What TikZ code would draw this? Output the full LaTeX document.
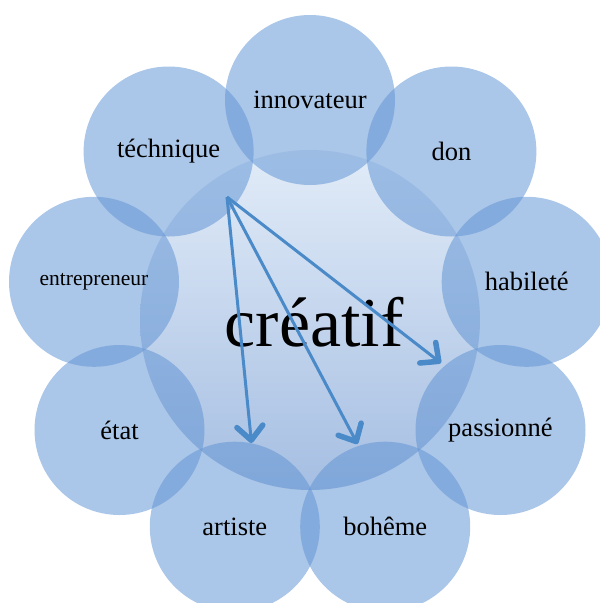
\documentclass[tikz,border=0pt]{standalone}
\usepackage{fontspec}
\setmainfont{Liberation Serif}
\usetikzlibrary{arrows.meta}
\definecolor{petalc}{RGB}{98,149,212}
\definecolor{ctop}{RGB}{226,236,248}
\definecolor{cbot}{RGB}{165,190,226}
\definecolor{arrowc}{RGB}{74,138,200}
\begin{document}
\begin{tikzpicture}[x=1pt,y=-1pt,
  petal/.style={circle, minimum size=170pt, inner sep=0pt, fill=petalc, fill opacity=0.54, text opacity=1, text=black, font=\fontsize{26.5}{30}\selectfont},
  core/.style={circle, minimum size=340pt, inner sep=0pt, top color=ctop, bottom color=cbot, draw=none},
  link/.style={draw=arrowc, line width=3pt, -{Straight Barb[length=14pt,width=26pt,line width=5.5pt 0,round]}}]
\useasboundingbox (0,0) rectangle (600,603);
\clip (0,0) rectangle (600,603);
\node[core] (c) at (310,320) {};
\node[font=\fontsize{70}{76}\selectfont] (ct) at (314,322) {créatif};
\node[petal] (p1) at (310,100) {innovateur};
\node[petal] (p2) at (451.4,151.5) {don};
\node[petal] (p3) at (526.7,281.8) {habileté};
\node[petal] (p4) at (500.5,430) {passionné};
\node[petal] (p5) at (385.2,526.7) {bohême};
\node[petal] (p6) at (234.8,526.7) {artiste};
\node[petal] (p7) at (119.5,430) {état};
\node[petal, font=\fontsize{21.5}{25}\selectfont] (p8) at (94,281.8) {entrepreneur};
\node[petal] (p9) at (168.6,151.5) {téchnique};
\coordinate (src) at (227,197);
\coordinate (t1) at (251.5,443);
\coordinate (t2) at (357.5,444);
\coordinate (t3) at (441,363);
\draw[link] (src) -- (t1);
\draw[link] (src) -- (t2);
\draw[link] (src) -- (t3);
\end{tikzpicture}
\end{document}
